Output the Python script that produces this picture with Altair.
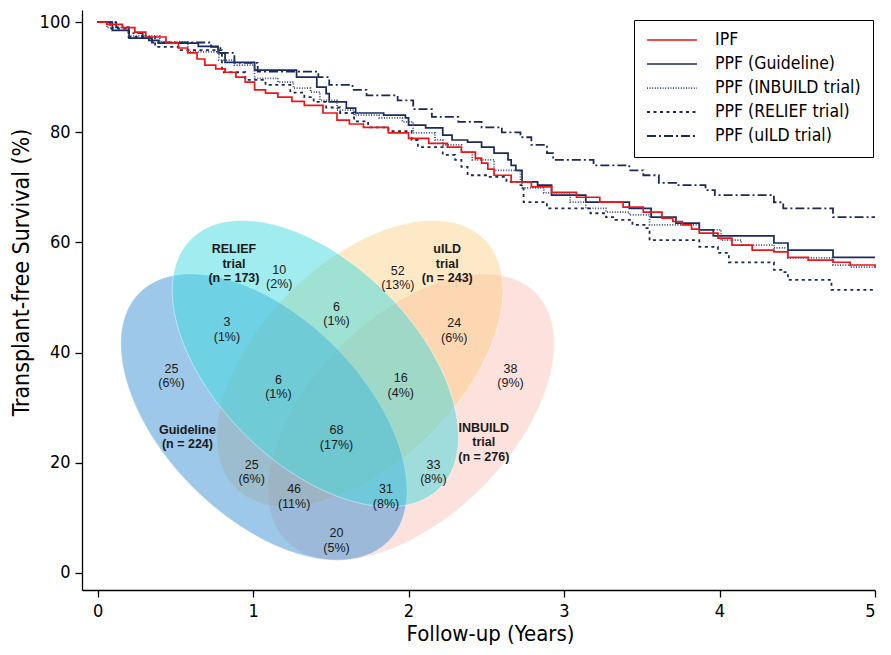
import altair as alt
import pandas as pd

# ---------------- Kaplan-Meier data ----------------
series_names = ["IPF", "PPF (Guideline)", "PPF (INBUILD trial)", "PPF (RELIEF trial)", "PPF (uILD trial)"]

ipf_t = [0, 0.06, 0.16, 0.24, 0.31, 0.44, 0.52, 0.58, 0.64, 0.69, 0.76, 0.82, 0.89, 0.95, 1.01, 1.08,
         1.16, 1.25, 1.33, 1.45, 1.54, 1.62, 1.71, 1.87, 2.00, 2.13, 2.25, 2.34, 2.43, 2.47, 2.51, 2.55,
         2.66, 2.79, 2.92, 3.08, 3.23, 3.38, 3.51, 3.63, 3.70, 3.76, 3.82, 3.87, 3.99, 4.08, 4.21, 4.35,
         4.44, 4.57, 4.73, 4.84, 5.0]
ipf_s = [100, 99.6, 99.0, 98.2, 97.3, 96.2, 95.3, 94.4, 93.3, 92.2, 91.5, 90.9, 90.0, 89.1, 87.7, 87.1,
         86.4, 85.6, 84.9, 83.5, 82.2, 81.5, 80.9, 79.9, 78.9, 78.0, 77.3, 76.4, 75.3, 74.4, 73.3, 72.2,
         71.0, 70.1, 69.1, 68.2, 67.3, 66.4, 65.5, 64.4, 63.8, 63.2, 62.4, 61.7, 60.8, 59.5, 58.6, 58.3,
         57.3, 56.8, 56.4, 55.9, 55.4]

gl_t = [0, 0.095, 0.203, 0.33, 0.394, 0.648, 0.775, 0.82, 1.01, 1.28, 1.41, 1.47, 1.49, 1.60, 1.66, 1.84,
        1.98, 2.00, 2.11, 2.22, 2.28, 2.38, 2.47, 2.55, 2.64, 2.66, 2.69, 2.73, 2.83, 2.92, 3.14, 3.42,
        3.56, 3.72, 3.87, 3.96, 4.35, 4.44, 4.73, 5.0]
gl_s = [100, 98.5, 97.1, 96.7, 96.2, 95.6, 94.4, 92.7, 91.3, 90.0, 88.2, 87.0, 85.5, 84.4, 83.5, 83.1,
        82.6, 81.3, 80.8, 79.5, 78.6, 78.2, 77.3, 76.2, 75.0, 74.0, 73.1, 71.0, 70.4, 68.6, 67.3, 66.2,
        64.6, 63.5, 62.3, 61.2, 59.9, 58.6, 57.3, 57.3]

ib_t = [0, 0.06, 0.2, 0.4, 0.58, 0.78, 0.88, 1.01, 1.16, 1.26, 1.37, 1.43, 1.54, 1.65, 1.81, 1.96,
        2.03, 2.17, 2.22, 2.34, 2.41, 2.55, 2.72, 2.73, 2.87, 3.04, 3.14, 3.27, 3.42, 3.55, 3.87, 4.01,
        4.14, 4.35, 4.44, 4.73, 4.84, 5.0]
ib_s = [100, 99.0, 97.5, 96.4, 94.6, 93.1, 92.2, 89.8, 89.1, 88.0, 87.3, 85.8, 84.0, 83.1, 82.6, 81.9,
        79.9, 78.6, 77.7, 76.4, 75.0, 73.1, 71.3, 69.9, 69.0, 67.3, 66.2, 65.5, 65.0, 63.2, 62.3, 60.4,
        59.5, 59.0, 57.2, 55.9, 55.5, 55.4]

rl_t = [0, 0.08, 0.2, 0.37, 0.52, 0.8, 0.95, 1.08, 1.24, 1.33, 1.39, 1.47, 1.56, 1.65, 1.74, 1.87,
        2.02, 2.06, 2.22, 2.30, 2.34, 2.38, 2.51, 2.63, 2.72, 2.74, 2.89, 3.17, 3.27, 3.33, 3.44, 3.53,
        3.55, 3.87, 3.99, 4.06, 4.35, 4.41, 4.44, 4.72, 5.0]
rl_s = [100, 98.8, 97.3, 95.5, 94.9, 90.9, 89.5, 88.6, 87.2, 86.4, 85.5, 84.5, 83.5, 82.0, 80.9, 80.2,
        78.6, 77.3, 75.9, 75.0, 73.7, 72.2, 71.9, 71.0, 70.4, 67.3, 66.2, 65.3, 64.6, 64.1, 63.2, 62.6,
        60.4, 59.2, 58.1, 56.4, 55.0, 54.6, 53.2, 51.4, 51.4]

ul_t = [0, 0.12, 0.2, 0.29, 0.35, 0.73, 0.79, 0.88, 1.03, 1.42, 1.49, 1.64, 1.73, 1.93, 2.03, 2.15,
        2.32, 2.47, 2.60, 2.72, 2.79, 2.89, 2.93, 3.19, 3.42, 3.51, 3.61, 3.72, 3.91, 3.97, 4.35, 4.41,
        4.73, 5.0]
ul_s = [100, 99.1, 98.0, 97.1, 96.3, 95.5, 94.4, 92.6, 91.0, 90.0, 88.6, 87.7, 86.7, 85.8, 84.2, 82.8,
        81.9, 80.9, 80.0, 79.1, 77.7, 76.2, 75.0, 74.0, 73.1, 72.2, 70.8, 70.4, 69.5, 68.6, 67.3, 66.2,
        64.6, 64.6]

# ---------------- Venn diagram data ----------------
set_names = ["Guideline", "RELIEF trial", "uILD trial", "INBUILD trial"]
set_label_text = ["Guideline\n(n = 224)", "RELIEF\ntrial\n(n = 173)", "uILD\ntrial\n(n = 243)",
                  "INBUILD\ntrial\n(n = 276)"]
region_counts = [10, 52, 3, 6, 24, 25, 6, 16, 38, 68, 25, 33, 46, 31, 20]
region_pcts = [2, 13, 1, 1, 6, 6, 1, 4, 9, 17, 6, 8, 11, 8, 5]

# ---------------- layout (anchor positions in axis units) ----------------
ellipse_x = [1.070, 1.401, 1.687, 2.017]
ellipse_y = [28.3, 38.0, 38.0, 28.3]
ellipse_angle = [45, 45, 135, 135]
ellipse_fill = ["#3b91d5", "#41d9dd", "#fac870", "#fab4a8"]
ellipse_opacity = [0.5, 0.5, 0.4, 0.4]
draw_order = [3, 2, 0, 1]  # INBUILD, uILD, Guideline, RELIEF

region_x = [1.169, 1.931, 0.832, 1.537, 2.294, 0.476, 1.163, 1.950, 2.656, 1.537, 0.991, 2.160, 1.264, 1.855, 1.537]
region_y = [55.0, 54.9, 45.55, 48.3, 45.3, 37.1, 35.1, 35.3, 37.1, 25.9, 19.6, 19.6, 15.2, 15.2, 7.2]
set_label_x = [0.578, 0.877, 2.249, 2.484]
set_label_y = [26.0, 58.8, 58.8, 26.4]

# ---------------- styles ----------------
FONT = "Liberation Sans, Arial, Helvetica, sans-serif"
NARROW = "Liberation Sans Narrow, Arial Narrow, DejaVu Sans Condensed, Liberation Sans, sans-serif"
navy = "#1b2a5c"
line_colors = ["#f01414", navy, "#3a4b7e", navy, navy]
line_dashes = [[1, 0], [1, 0], [1, 1.6], [3, 3.5], [9, 3, 2, 3]]
line_widths = [1.7, 1.8, 1.1, 2.2, 1.8]

ELL_A, ELL_B = 176.0, 100.0  # semi-axes in px
ry = ELL_B / ELL_A
k = 0.5523
ellipse_path = (
    f"M 1 0 C 1 {k*ry:.4f} {k:.4f} {ry:.4f} 0 {ry:.4f} "
    f"C {-k:.4f} {ry:.4f} -1 {k*ry:.4f} -1 0 "
    f"C -1 {-k*ry:.4f} {-k:.4f} {-ry:.4f} 0 {-ry:.4f} "
    f"C {k:.4f} {-ry:.4f} 1 {-k*ry:.4f} 1 0 Z"
)
ellipse_size = (2 * ELL_A) ** 2

# ---------------- build tables ----------------
rows = []
draw_series = [1, 2, 3, 4, 0]  # IPF drawn last (on top)
all_t = [ipf_t, gl_t, ib_t, rl_t, ul_t]
all_s = [ipf_s, gl_s, ib_s, rl_s, ul_s]
for i in draw_series:
    for t, s in zip(all_t[i], all_s[i]):
        rows.append({"series": series_names[i], "t": t, "s": s})
km = pd.DataFrame(rows)

regions = pd.DataFrame({
    "t": region_x, "s": region_y,
    "label": [f"{n}\n({p}%)" for n, p in zip(region_counts, region_pcts)],
})
set_labels = pd.DataFrame({"t": set_label_x, "s": set_label_y, "label": set_label_text})

W, H = 793, 580
xs = alt.Scale(domain=[-0.1, 5.0], nice=False, zero=False)
ys = alt.Scale(domain=[-3.1, 102.2], nice=False, zero=False)

x_axis = alt.Axis(values=[0, 1, 2, 3, 4, 5], format="d", grid=False, domainColor="black", domainWidth=1.3,
                  tickColor="black", tickWidth=1.3, tickSize=7, labelFontSize=18, labelFont=NARROW,
                  labelColor="black", labelPadding=5, title="Follow-up (Years)", titleFont=NARROW,
                  titleFontSize=22, titleFontWeight="normal", titleColor="black",
                  titleX=408, titleY=43, titleBaseline="middle", titleAlign="center")
y_axis = alt.Axis(values=[0, 20, 40, 60, 80, 100], format="d", grid=False, domainColor="black",
                  domainWidth=1.3, tickColor="black", tickWidth=1.3, tickSize=7, labelFontSize=18,
                  labelFont=NARROW, labelColor="black", labelPadding=5, title="Transplant-free Survival (%)",
                  titleFont=NARROW, titleFontSize=23, titleFontWeight="normal", titleColor="black",
                  titleX=-61, titleY=262, titleAngle=270, titleBaseline="middle", titleAlign="center")

layers = []
for i in draw_order:
    ell = pd.DataFrame({"t": [ellipse_x[i]], "s": [ellipse_y[i]], "name": [set_names[i]]})
    layers.append(
        alt.Chart(ell).mark_point(shape=ellipse_path, size=ellipse_size, filled=True, angle=ellipse_angle[i],
                                  fill=ellipse_fill[i], fillOpacity=ellipse_opacity[i], stroke="white",
                                  strokeWidth=0.6, strokeOpacity=0.7, opacity=1)
        .encode(x=alt.X("t:Q", scale=xs, axis=x_axis), y=alt.Y("s:Q", scale=ys, axis=y_axis))
    )

region_text = alt.Chart(regions).mark_text(font=FONT, fontSize=12.5, color="#1a1a1a", lineBreak="\n",
                                           lineHeight=14.5, baseline="middle", align="center").encode(
    x=alt.X("t:Q", scale=xs), y=alt.Y("s:Q", scale=ys), text="label:N")
set_text = alt.Chart(set_labels).mark_text(font=FONT, fontSize=12.5, fontWeight="bold", color="#1a1a1a",
                                           lineBreak="\n", lineHeight=14.5, baseline="middle",
                                           align="center").encode(
    x=alt.X("t:Q", scale=xs), y=alt.Y("s:Q", scale=ys), text="label:N")

legend = alt.Legend(title=None, orient="none", legendX=552, legendY=10, symbolType="stroke", symbolSize=2500,
                    symbolStrokeWidth=1.6, clipHeight=16, rowPadding=6, labelOffset=17, padding=12,
                    strokeColor="black", fillColor="white", labelFont=NARROW, labelFontSize=17.5,
                    labelColor="black", labelLimit=300)

lines = alt.Chart(km).mark_line(interpolate="step-after").encode(
    x=alt.X("t:Q", scale=xs),
    y=alt.Y("s:Q", scale=ys),
    color=alt.Color("series:N", scale=alt.Scale(domain=series_names, range=line_colors), legend=legend),
    strokeDash=alt.StrokeDash("series:N", scale=alt.Scale(domain=series_names, range=line_dashes), legend=legend),
    strokeWidth=alt.StrokeWidth("series:N", scale=alt.Scale(domain=series_names, range=line_widths), legend=None),
    order=alt.Order("t:Q"),
)

chart = alt.layer(*layers, region_text, set_text, lines).properties(
    width=W, height=H, autosize=alt.AutoSizeParams(type="none"),
    padding={"left": 74, "top": 2, "right": 8, "bottom": 57},
    background="white",
).configure_view(strokeWidth=0)

chart.save("out.html", embed_options={"renderer": "svg", "actions": False})
